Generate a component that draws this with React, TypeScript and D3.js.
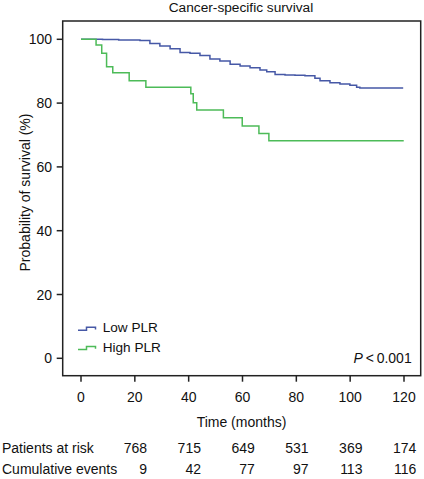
import React from "react";
import * as d3 from "d3";

const title = "Cancer-specific survival";
const xTicks = [0, 20, 40, 60, 80, 100, 120];
const yTicks = [0, 20, 40, 60, 80, 100];

// Low PLR Kaplan-Meier estimates (time in months, survival %)
const lowTimes = [0, 8, 14, 18.2, 21.9, 25.6, 29.3, 33.1, 36.8, 40.5, 44.2, 47.9, 51.6, 55.4, 59.1, 62.8, 66.5, 69.0, 72.1, 75.8, 79.5, 83.2, 86.9, 88.8, 92.5, 96.2, 99.9, 102.4, 103.6, 119.7];
const lowSurv = [100, 99.9, 99.8, 99.8, 99.6, 98.7, 97.9, 97.0, 95.9, 95.6, 94.9, 93.8, 93.2, 92.2, 91.6, 91.1, 90.4, 89.8, 89.0, 88.8, 88.7, 88.6, 87.8, 87.0, 86.4, 86.0, 85.6, 85.0, 84.7, 84.7];

// High PLR Kaplan-Meier estimates
const highTimes = [0, 5.6, 7.7, 9.5, 11.8, 17.9, 24.1, 40.8, 41.7, 43.0, 52.9, 59.9, 66.1, 69.8, 119.9];
const highSurv = [100, 98.2, 95.6, 91.4, 89.5, 87.0, 85.0, 82.9, 80.1, 77.8, 75.4, 72.8, 70.5, 68.2, 68.2];

const seriesNames = ["Low PLR", "High PLR"];
const seriesColors = ["#4658a6", "#4dbb58"];

const riskTimes = [20, 40, 60, 80, 100, 120];
const patientsAtRisk = [768, 715, 649, 531, 369, 174];
const cumulativeEvents = [9, 42, 77, 97, 113, 116];

const W = 424;
const H = 479;
const FONT = "'Liberation Sans', Arial, Helvetica, sans-serif";

export default function App() {
  const x = d3.scaleLinear().domain([0, 120]).range([81, 404]);
  const y = d3.scaleLinear().domain([0, 100]).range([358.3, 39.3]);

  const frame = { left: 62.7, right: 420.7, top: 21, bottom: 375.7 };

  const line = d3
    .line<[number, number]>()
    .x((d) => x(d[0]))
    .y((d) => y(d[1]))
    .curve(d3.curveStepAfter);

  const lowData: [number, number][] = lowTimes.map((t, i) => [t, lowSurv[i]]);
  const highData: [number, number][] = highTimes.map((t, i) => [t, highSurv[i]]);

  const legendY = [330.2, 349.6];

  return (
    <svg
      width={W}
      height={H}
      style={{ position: "absolute", left: 0, top: 0, background: "#fff" }}
      fontFamily={FONT}
    >
      <rect x={0} y={0} width={W} height={H} fill="#fff" />
      <text x={241} y={11.7} fontSize={13.7} textAnchor="middle" fill="#111">
        {title}
      </text>

      {/* frame */}
      <rect
        x={frame.left}
        y={frame.top}
        width={frame.right - frame.left}
        height={frame.bottom - frame.top}
        fill="none"
        stroke="#222"
        strokeWidth={1.5}
      />

      {/* y axis ticks */}
      {yTicks.map((t) => (
        <g key={"y" + t}>
          <line x1={frame.left - 6} x2={frame.left} y1={y(t)} y2={y(t)} stroke="#222" strokeWidth={1.5} />
          <text x={52} y={y(t) + 5} fontSize={14} textAnchor="end" fill="#111">
            {t}
          </text>
        </g>
      ))}

      {/* x axis ticks */}
      {xTicks.map((t) => (
        <g key={"x" + t}>
          <line x1={x(t)} x2={x(t)} y1={frame.bottom} y2={frame.bottom + 6} stroke="#222" strokeWidth={1.5} />
          <text x={x(t)} y={401.7} fontSize={14} textAnchor="middle" fill="#111">
            {t}
          </text>
        </g>
      ))}

      <text x={241.5} y={426.7} fontSize={14} textAnchor="middle" fill="#111">
        Time (months)
      </text>
      <text
        transform={`translate(30,192.5) rotate(-90)`}
        fontSize={14}
        textAnchor="middle"
        fill="#111"
      >
        Probability of survival (%)
      </text>

      {/* curves */}
      <path d={line(lowData) || ""} fill="none" stroke={seriesColors[0]} strokeWidth={1.5} />
      <path d={line(highData) || ""} fill="none" stroke={seriesColors[1]} strokeWidth={1.5} />

      {/* legend */}
      {seriesNames.map((name, i) => (
        <g key={name}>
          <path
            d={`M78,${legendY[i]} H86.5 V${legendY[i] - 3} H95.5 V${legendY[i] - 0.8}`}
            fill="none"
            stroke={seriesColors[i]}
            strokeWidth={1.5}
          />
          <text x={102.7} y={legendY[i] + 2.1} fontSize={13.6} fill="#111">
            {name}
          </text>
        </g>
      ))}

      {/* p-value */}
      <text x={411.7} y={363.3} fontSize={14} textAnchor="end" fill="#111">
        <tspan fontStyle="italic">P</tspan>
        <tspan>{"\u2009<\u20090.001"}</tspan>
      </text>

      {/* risk table */}
      <text x={2} y={453.3} fontSize={14} fill="#111">
        Patients at risk
      </text>
      <text x={2} y={474} fontSize={14} fill="#111">
        Cumulative events
      </text>
      {riskTimes.map((t, i) => (
        <g key={"r" + t}>
          <text x={x(t) + 12.3} y={453.3} fontSize={14} textAnchor="end" fill="#111">
            {patientsAtRisk[i]}
          </text>
          <text x={x(t) + 12.3} y={474} fontSize={14} textAnchor="end" fill="#111">
            {cumulativeEvents[i]}
          </text>
        </g>
      ))}
    </svg>
  );
}
